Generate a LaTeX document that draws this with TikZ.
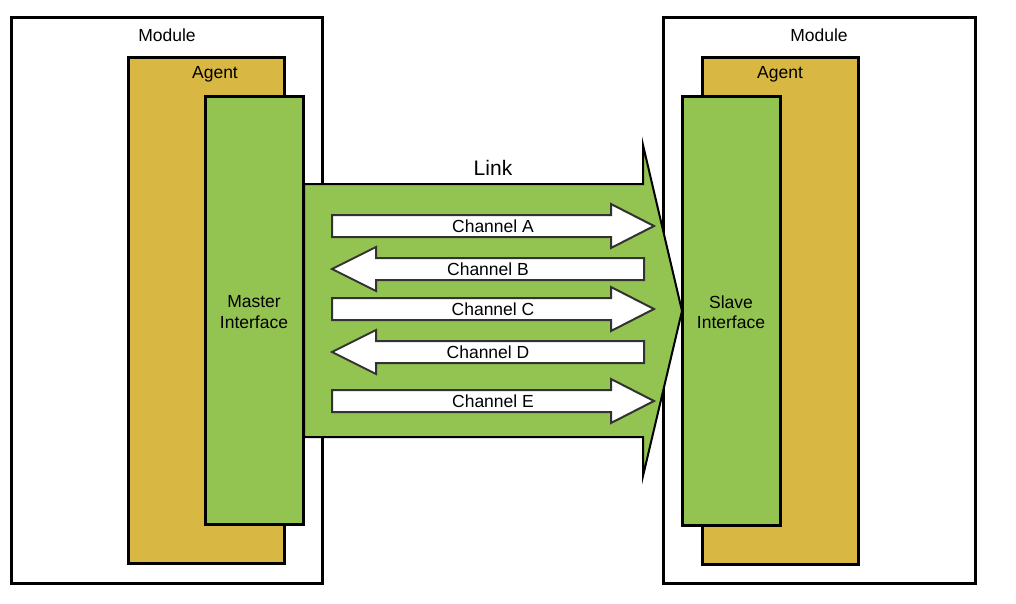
\documentclass[tikz,border=0pt]{standalone}
\usepackage{fontspec}
\setmainfont{Liberation Sans}
\definecolor{agentgold}{RGB}{216,183,66}
\definecolor{ifgreen}{RGB}{147,196,82}
\definecolor{chanedge}{RGB}{50,50,50}
\begin{document}
\begin{tikzpicture}[x=1pt,y=-1pt,
  box/.style={draw=black,line width=3pt,anchor=north west,inner sep=0pt,outer sep=0pt},
  modbox/.style={box,fill=white},
  agentbox/.style={box,fill=agentgold},
  ifbox/.style={box,fill=ifgreen},
  lbl/.style={font=\fontsize{17.5}{20.5}\selectfont,align=center,inner sep=0pt},
  chan/.style={draw=chanedge,fill=white,line width=2pt,line join=miter},
  linkarrow/.style={draw=black,fill=ifgreen,line width=2pt,line join=miter}]
\useasboundingbox (0,0) rectangle (1016,604);
\fill[white] (0,0) rectangle (1016,604);
% left side
\node[modbox,minimum width=311pt,minimum height=565pt] (m1) at (11,18) {};
\node[agentbox,minimum width=156pt,minimum height=505pt] (a1) at (128,58) {};
\node[ifbox,minimum width=98pt,minimum height=427pt] (i1) at (205,97) {};
% right side
\node[modbox,minimum width=312pt,minimum height=565pt] (m2) at (663,18) {};
\node[agentbox,minimum width=156pt,minimum height=506pt] (a2) at (702,58) {};
\node[ifbox,minimum width=98pt,minimum height=428pt] (i2) at (682,97) {};
% labels
\node[lbl] (m1l) at (167,35) {Module};
\node[lbl] (m2l) at (819,35) {Module};
\node[lbl] (a1l) at (215,74) {Agent};
\node[lbl] (a2l) at (780,74) {Agent};
\node[lbl] (i1l) at (254,312) {Master\\Interface};
\node[lbl] (i2l) at (731,312) {Slave\\Interface};
% link arrow
\coordinate (lk1) at (304,184);
\coordinate (lk2) at (643,184);
\coordinate (lk3) at (643,145);
\coordinate (lktip) at (682,311);
\coordinate (lk5) at (643,476);
\coordinate (lk6) at (643,437);
\coordinate (lk7) at (304,437);
\draw[linkarrow] (lk1) -- (lk2) -- (lk3) -- (lktip) -- (lk5) -- (lk6) -- (lk7) -- cycle;
\node[font=\fontsize{21}{24}\selectfont,inner sep=0pt] (lkl) at (493,168) {Link};
% channels (right-pointing)
\foreach \yc/\nm in {226/A,309/C,401/E}{
  \draw[chan] (332,\yc-11) -- (611,\yc-11) -- (611,\yc-22) -- (654,\yc) -- (611,\yc+22) -- (611,\yc+11) -- (332,\yc+11) -- cycle;
  \node[lbl] (ch\nm) at (493,\yc) {Channel \nm};
}
% channels (left-pointing)
\foreach \yc/\nm in {269/B,352/D}{
  \draw[chan] (644,\yc-11) -- (376,\yc-11) -- (376,\yc-22) -- (332,\yc) -- (376,\yc+22) -- (376,\yc+11) -- (644,\yc+11) -- cycle;
  \node[lbl] (ch\nm) at (488,\yc) {Channel \nm};
}
\end{tikzpicture}
\end{document}
